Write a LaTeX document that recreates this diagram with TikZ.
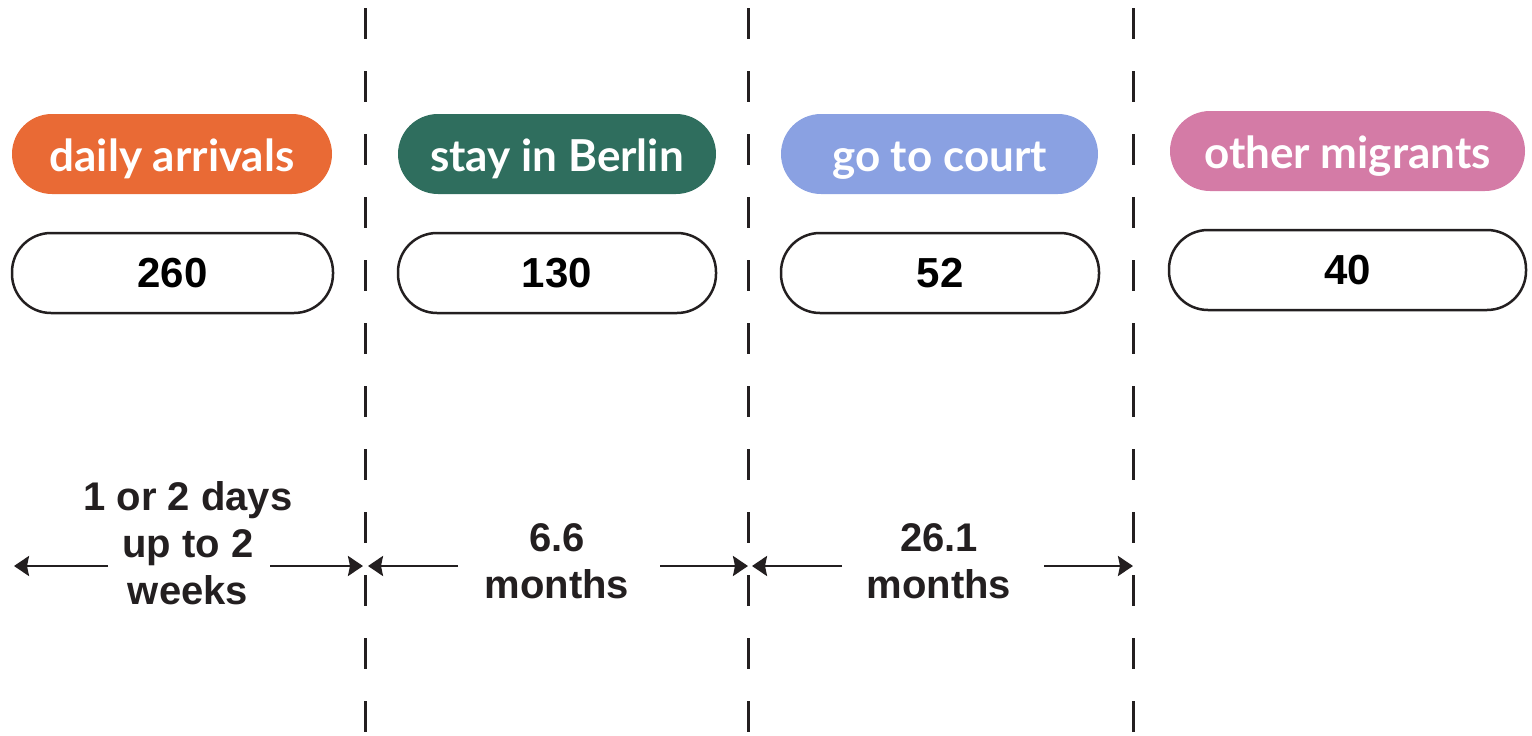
\documentclass[tikz,border=0pt]{standalone}
\usepackage{fontspec}
\setmainfont{Liberation Sans}
\newfontfamily\pillfont{Lato}
\usetikzlibrary{arrows.meta,shapes.misc}
\definecolor{ink}{HTML}{231F20}
\definecolor{corange}{HTML}{E96A35}
\definecolor{cgreen}{HTML}{2F6E5E}
\definecolor{cblue}{HTML}{8AA1E2}
\definecolor{cpink}{HTML}{D47BA6}
\tikzset{
  pill/.style={rounded rectangle, minimum height=80pt, text=white, font=\pillfont\bfseries\fontsize{44}{44}\selectfont, inner sep=0pt, text height=36pt, text depth=2pt},
  numbox/.style={draw=ink, line width=2.5pt, rounded corners=39pt, minimum height=80pt, inner sep=0pt, font=\bfseries\fontsize{42}{42}\selectfont, text=black},
  sep/.style={draw=ink, line width=3pt, dash pattern=on 31pt off 32pt},
  dur/.style={draw=ink, line width=2.5pt, -{Stealth[length=15pt,width=20pt,inset=2pt]}},
  lbl/.style={align=center, font=\bfseries\fontsize{40}{47}\selectfont, text=ink, inner sep=0pt}
}
\begin{document}
\begin{tikzpicture}[x=1pt,y=-1pt]
\useasboundingbox (0,0) rectangle (1532,736);
% separators
\coordinate (s1t) at (365,8); \coordinate (s1b) at (365,736);
\coordinate (s2t) at (748,8); \coordinate (s2b) at (748,736);
\coordinate (s3t) at (1133,8); \coordinate (s3b) at (1133,736);
\draw[sep] (s1t) -- (s1b);
\draw[sep] (s2t) -- (s2b);
\draw[sep] (s3t) -- (s3b);
% pills
\node[pill, fill=corange, minimum width=320pt] (p1) at (172,154) {daily arrivals};
\node[pill, fill=cgreen, minimum width=318pt] (p2) at (557,154) {stay in Berlin};
\node[pill, fill=cblue, minimum width=317pt] (p3) at (939.5,154) {go to court};
\node[pill, fill=cpink, minimum width=355pt] (p4) at (1347.5,151) {other migrants};
% numbers
\node[numbox, minimum width=321pt] (n1) at (172.5,273) {260};
\node[numbox, minimum width=318pt] (n2) at (557,273) {130};
\node[numbox, minimum width=318pt] (n3) at (940,273) {52};
\node[numbox, minimum width=357pt] (n4) at (1347.5,270) {40};
% durations
\node[lbl] (d1) at (188,543) {1 or 2 days\\up to 2\\weeks};
\node[lbl] (d2) at (557,561) {6.6\\months};
\node[lbl] (d3) at (939,561) {26.1\\months};
\coordinate (a1l) at (108,566); \coordinate (a1le) at (14,566);
\coordinate (a1r) at (270,566); \coordinate (a1re) at (363,566);
\coordinate (a2l) at (458,566); \coordinate (a2le) at (368,566);
\coordinate (a2r) at (660,566); \coordinate (a2re) at (748,566);
\coordinate (a3l) at (842,566); \coordinate (a3le) at (752,566);
\coordinate (a3r) at (1044,566); \coordinate (a3re) at (1133,566);
\draw[dur] (a1l) -- (a1le);
\draw[dur] (a1r) -- (a1re);
\draw[dur] (a2l) -- (a2le);
\draw[dur] (a2r) -- (a2re);
\draw[dur] (a3l) -- (a3le);
\draw[dur] (a3r) -- (a3re);
\end{tikzpicture}
\end{document}
